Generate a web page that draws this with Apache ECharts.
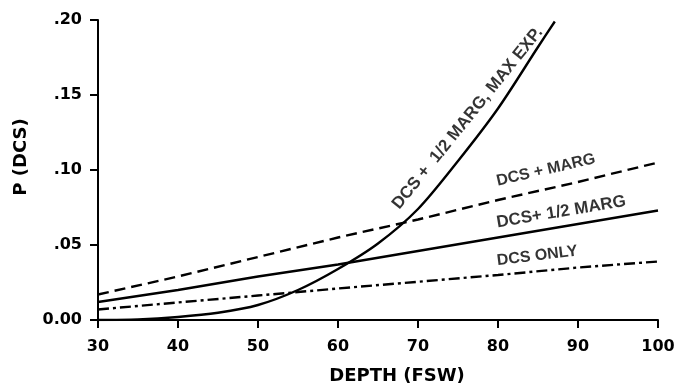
<!DOCTYPE html>
<html>
<head>
<meta charset="utf-8">
<script src="https://cdn.jsdelivr.net/npm/echarts@6/dist/echarts.min.js"></script>
<style>html,body{margin:0;padding:0;background:#fff}#c{width:690px;height:386px}</style>
</head>
<body>
<div id="c"></div>
<script>
var depths = [30, 40, 50, 60, 70, 80, 90, 100];
var dcsOnly = [0.007, 0.0117, 0.0163, 0.021, 0.0255, 0.030, 0.035, 0.039];
var dcsHalfMarg = [0.012, 0.020, 0.029, 0.037, 0.046, 0.055, 0.064, 0.073];
var dcsMarg = [0.017, 0.029, 0.042, 0.055, 0.067, 0.080, 0.092, 0.105];
var expDepths = [30, 35, 40, 45, 50, 55, 60, 65, 70, 75, 80, 85, 87.1];
var expVals = [0, 0.0004, 0.002, 0.0048, 0.010, 0.020, 0.034, 0.051, 0.074, 0.106, 0.141, 0.182, 0.199];
var xTicks = [30, 40, 50, 60, 70, 80, 90, 100];
var yTicks = ['0.00', '.05', '.10', '.15', '.20'];
var curveLabels = [
  {text: 'DCS +  1/2 MARG, MAX EXP.', x: 76.2, y: 0.1345, rot: 51, size: 17},
  {text: 'DCS + MARG', x: 86, y: 0.100, rot: 13, size: 16},
  {text: 'DCS+ 1/2 MARG', x: 87.9, y: 0.072, rot: 9.5, size: 17},
  {text: 'DCS ONLY', x: 84.9, y: 0.0427, rot: 7, size: 16}
];

function pairs(xs, ys) { return xs.map(function (x, i) { return [x, ys[i]]; }); }

var FONT = 'Liberation Sans';
var AXFONT = 'DejaVu Sans';
var chart = echarts.init(document.getElementById('c'), null, {renderer: 'canvas'});
var lineBase = {type: 'line', showSymbol: false, symbol: 'none', silent: true};
chart.setOption({
  animation: false,
  backgroundColor: '#fff',
  grid: {left: 98, right: 32, top: 20, bottom: 66, containLabel: false, outerBoundsMode: 'none'},
  xAxis: {
    type: 'value', min: 30, max: 100, interval: 10,
    name: 'DEPTH (FSW)', nameLocation: 'middle', nameGap: 47,
    nameTextStyle: {color: '#000', fontSize: 18, fontFamily: AXFONT, fontWeight: 'bold', padding: [0, 0, 0, 38]},
    axisLine: {onZero: false, lineStyle: {color: '#000', width: 2}},
    axisTick: {show: true, length: 8, lineStyle: {color: '#000', width: 2}},
    axisLabel: {color: '#000', fontSize: 16, fontFamily: AXFONT, fontWeight: 'bold', margin: 19,
      formatter: function (v) { return xTicks.indexOf(v) >= 0 ? String(v) : ''; }},
    splitLine: {show: false}
  },
  yAxis: {
    type: 'value', min: 0, max: 0.2, interval: 0.05,
    name: 'P (DCS)', nameLocation: 'middle', nameGap: 68, nameRotate: 90,
    nameTextStyle: {color: '#000', fontSize: 18, fontFamily: AXFONT, fontWeight: 'bold', padding: [0, 0, 0, 26]},
    axisLine: {show: true, lineStyle: {color: '#000', width: 2}},
    axisTick: {show: true, length: 8, lineStyle: {color: '#000', width: 2}},
    axisLabel: {color: '#000', fontSize: 16, fontFamily: AXFONT, fontWeight: 'bold', margin: 16,
      formatter: function (v) { return yTicks[Math.round(v / 0.05)]; }},
    splitLine: {show: false}
  },
  series: [
    Object.assign({}, lineBase, {name: 'DCS ONLY', data: pairs(depths, dcsOnly),
      lineStyle: {color: '#000', width: 2.4, type: [11, 4, 3, 4]}}),
    Object.assign({}, lineBase, {name: 'DCS + 1/2 MARG', data: pairs(depths, dcsHalfMarg),
      lineStyle: {color: '#000', width: 2.4, type: 'solid'}}),
    Object.assign({}, lineBase, {name: 'DCS + MARG', data: pairs(depths, dcsMarg),
      lineStyle: {color: '#000', width: 2.4, type: [11, 6]}}),
    Object.assign({}, lineBase, {name: 'DCS + 1/2 MARG, MAX EXP.', data: pairs(expDepths, expVals),
      smooth: 0.3,
      lineStyle: {color: '#000', width: 2.4, type: 'solid'}}),
    {
      type: 'scatter', silent: true, symbolSize: 0,
      data: curveLabels.map(function (l) {
        return {value: [l.x, l.y], label: {show: true, position: 'inside', formatter: l.text, rotate: l.rot,
          color: '#000', fontSize: l.size, fontFamily: FONT, fontWeight: 'bold'}};
      })
    }
  ]
});
</script>
</body>
</html>
